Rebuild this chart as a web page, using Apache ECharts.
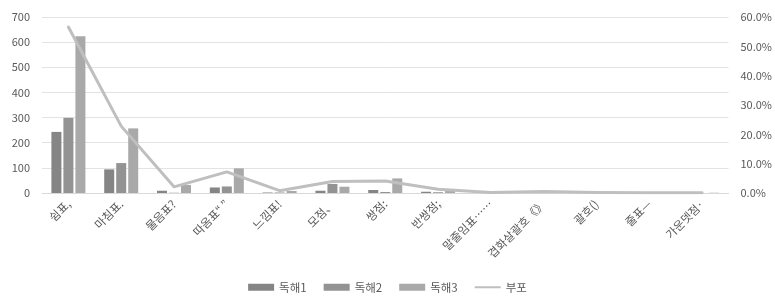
<!DOCTYPE html>
<html>
<head>
<meta charset="utf-8">
<script src="https://cdn.jsdelivr.net/npm/echarts@6/dist/echarts.min.js"></script>
<style>
  html, body { margin: 0; padding: 0; background: #fff; }
  #chart { width: 775px; height: 300px; }
</style>
</head>
<body>
<div id="chart"></div>
<script>
// ========== 데이터 ==========
const categories = ['쉼표,', '마침표.', '물음표?', '따옴표“ ”', '느낌표!', '모점、', '쌍점:', '반쌍점;', '말줄임표……', '겹화살괄호《》', '괄호()', '줄표—', '가운뎃점·'];
const reading1 = [243, 94, 9, 22, 2, 9, 12, 5, 1, 1, 0, 0, 0];
const reading2 = [299, 119, 1, 26, 2, 36, 4, 3, 1, 2, 1, 0, 0];
const reading3 = [623, 257, 32, 98, 8, 25, 58, 9, 2, 5, 2, 1, 1];
const distribution = [56.6, 22.8, 2.1, 7.2, 0.8, 3.9, 4.1, 1.3, 0.2, 0.5, 0.2, 0.1, 0.1];
const leftTicks = { min: 0, max: 700, interval: 100 };
const rightTicks = { min: 0, max: 60, interval: 10 };

const textColor = '#595959';
const fontFamily = '"Noto Sans CJK KR", "Noto Sans", sans-serif';

// ========== 차트 ==========
const myChart = echarts.init(document.getElementById('chart'));

const option = {
    animation: false,
    textStyle: { fontFamily: fontFamily },
    grid: { left: 42, right: 44, top: 17, bottom: 107 },
    legend: {
        bottom: 2,
        left: 'center',
        itemWidth: 26,
        itemHeight: 7,
        itemGap: 17,
        textStyle: { color: textColor, fontSize: 11.5 },
        data: [
            { name: '독해1', icon: 'rect' },
            { name: '독해2', icon: 'rect' },
            { name: '독해3', icon: 'rect' },
            { name: '부포', icon: 'path://M0,0 L26,0 L26,2 L0,2 Z' }
        ]
    },
    xAxis: {
        type: 'category',
        data: categories,
        axisTick: { show: false },
        axisLine: { lineStyle: { color: '#d9d9d9' } },
        axisLabel: { rotate: 45, color: textColor, fontSize: 11.5, interval: 0, margin: 9 }
    },
    yAxis: [
        {
            type: 'value',
            min: leftTicks.min, max: leftTicks.max, interval: leftTicks.interval,
            axisLabel: { color: textColor, fontSize: 11, margin: 12 },
            splitLine: { lineStyle: { color: '#e3e3e3' } }
        },
        {
            type: 'value',
            min: rightTicks.min, max: rightTicks.max, interval: rightTicks.interval,
            axisLabel: { color: textColor, fontSize: 11, margin: 12, formatter: v => v.toFixed(1) + '%' },
            splitLine: { show: false }
        }
    ],
    series: [
        { name: '독해1', type: 'bar', data: reading1, barWidth: 10, barGap: '20%', itemStyle: { color: '#858585' } },
        { name: '독해2', type: 'bar', data: reading2, barWidth: 10, barGap: '20%', itemStyle: { color: '#939393' } },
        { name: '독해3', type: 'bar', data: reading3, barWidth: 10, barGap: '20%', itemStyle: { color: '#a9a9a9' } },
        {
            name: '부포', type: 'line', yAxisIndex: 1, data: distribution,
            symbol: 'none',
            lineStyle: { color: '#bfbfbf', width: 3, cap: 'round', join: 'round' },
            itemStyle: { color: '#bfbfbf' }
        }
    ]
};

myChart.setOption(option);
</script>
</body>
</html>
